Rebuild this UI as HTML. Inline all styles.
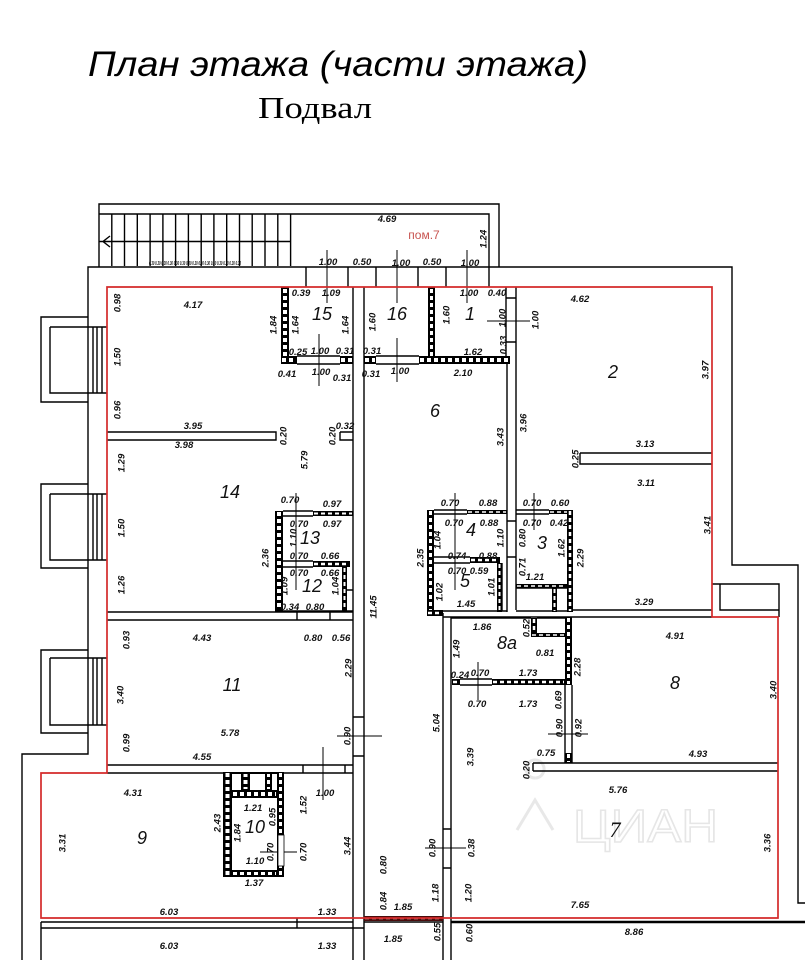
<!DOCTYPE html>
<html><head><meta charset="utf-8">
<style>
html,body{margin:0;padding:0;background:#fff;}
svg{display:block;}
.d{font-family:"Liberation Sans",sans-serif;font-style:italic;font-weight:bold;font-size:9.5px;text-anchor:middle;fill:#111;}
.n{font-family:"Liberation Sans",sans-serif;font-style:italic;font-size:18px;text-anchor:middle;fill:#111;}
.hw line{stroke:#fff;stroke-dasharray:4 3;}
</style></head><body>
<svg width="805" height="960" viewBox="0 0 805 960" xmlns="http://www.w3.org/2000/svg">
<rect width="805" height="960" fill="#fff"/>
<text x="88" y="76" textLength="500" lengthAdjust="spacingAndGlyphs" style="font-family:'Liberation Sans',sans-serif;font-style:italic;font-size:35px;fill:#000">План этажа (части этажа)</text>
<text x="258" y="118" textLength="114" lengthAdjust="spacingAndGlyphs" style="font-family:'Liberation Serif',serif;font-size:31px;fill:#000">Подвал</text>

<!-- watermark -->
<text x="573" y="842" textLength="145" lengthAdjust="spacingAndGlyphs" style="font-family:'Liberation Sans',sans-serif;font-size:46px;fill:none;stroke:#e6e6e6;stroke-width:1.5">ЦИАН</text>
<path d="M517,830 L535,800 L553,830 M535,778 a9,9 0 1,1 0.1,0" fill="none" stroke="#e8e8e8" stroke-width="3"/>

<g fill="none" stroke="#000" stroke-width="1.4">
<path d="M99,267V204H499V267 M99,214H489V267 M99,241.5H291
M111.8,214V266 M124.5,214V266 M137.3,214V266 M150.1,214V266 M162.9,214V266 M175.6,214V266 M188.4,214V266 M201.2,214V266 M213.9,214V266 M226.7,214V266 M239.5,214V266 M252.2,214V266 M265,214V266 M277.8,214V266 M290.6,214V266
M110,236L103,241.5L110,247
M22,960V754H88V267H732V565H798V903H805
M306,267V287 M348,267V287 M376,267V287 M418,267V287 M446,267V287 M489,267V287
M88,317H41V402H88 M50,327H107 M50,327V393H107 M93,327V393 M97,327V393 M102,327V393
M88,484H41V568H88 M50,494H107 M50,494V560H107 M93,494V560 M97,494V560 M102,494V560
M88,650H41V733H88 M50,658H107 M50,658V725H107 M93,658V725 M97,658V725 M102,658V725
M107,432H276V440H107 M340,432H353 M340,432V440H353
M297,356H340 M297,364H340
M353,287V960 M364,287V960
M376,356H419 M376,364H419
M506,287V364 M516,287V610 M506,298H516 M506,342H516 M507,364V612
M580,453H712 M580,453V464H712
M573,610H712 M443,617H712
M434,510H467 M434,514H467 M434,557H470 M434,563H470 M434,611H507 M507,521H516 M507,557H516 M502,563V611
M516,510H549 M516,514H549 M516,611H573 M516,588H567
M283,511H313 M283,516H313 M283,561H313 M283,567H313 M347,590H353 M275,611H353
M107,612H353 M107,620H353 M297,612V620 M330,612V620
M353,717H364 M353,756H364 M107,765H353 M107,773H223 M284,773H353 M303,765V773 M345,765V773
M277,835H284 M277,866H284
M41,922H353 M41,928H364 M41,922V960 M297,918V928
M443,613V960 M451,617V960 M443,829H451 M443,868H451 M364,922H443
M451,618H531 M537,618H565 M460,679H492 M460,685H492 M565,685V763 M572,685V763
M533,763H778 M533,771H778 M533,763V771
M712,584H779V617 M720,584V610H779"/>
</g>
<g fill="none" stroke="#000" stroke-width="1">
<path d="M327,250V303 M397,250V303 M467,250V303 M319,334V386 M397,338V382 M487,321H530 M296,493V590 M455,493V590 M534,493V530 M337,736H382 M323,747V800 M260,852H297 M425,848H466 M548,734H588 M478,662V700"/>
</g>
<path d="M451,922H805" stroke="#000" stroke-width="2.4"/>

<!-- hatched walls -->
<g class="hw">
<rect x="281" y="287" width="8" height="77"/><line x1="285" y1="289" x2="285" y2="362" stroke-width="4"/>
<rect x="281" y="356" width="16" height="8"/><line x1="282" y1="360" x2="296" y2="360" stroke-width="4"/>
<rect x="340" y="356" width="13" height="8"/><line x1="341" y1="360" x2="352" y2="360" stroke-width="4"/>
<rect x="364" y="356" width="12" height="8"/><line x1="365" y1="360" x2="375" y2="360" stroke-width="4"/>
<rect x="428" y="287" width="7" height="71"/><line x1="431.5" y1="289" x2="431.5" y2="356" stroke-width="3"/>
<rect x="419" y="356" width="91" height="8"/><line x1="420" y1="360" x2="509" y2="360" stroke-width="4"/>
<rect x="275" y="511" width="8" height="100"/><line x1="279" y1="512" x2="279" y2="610" stroke-width="4"/>
<rect x="313" y="511" width="40" height="5"/><line x1="314" y1="513.5" x2="352" y2="513.5" stroke-width="2"/>
<rect x="313" y="561" width="37" height="6"/><line x1="314" y1="564" x2="349" y2="564" stroke-width="2.5"/>
<rect x="342" y="567" width="5" height="44"/><line x1="344.5" y1="568" x2="344.5" y2="610" stroke-width="2"/>
<rect x="427" y="510" width="7" height="102"/><line x1="430.5" y1="511" x2="430.5" y2="611" stroke-width="3"/>
<rect x="467" y="510" width="40" height="4"/><line x1="468" y1="512" x2="506" y2="512" stroke-width="1.6"/>
<rect x="470" y="557" width="30" height="6"/><line x1="471" y1="560" x2="499" y2="560" stroke-width="2.5"/>
<rect x="497" y="563" width="5" height="49"/><line x1="499.5" y1="564" x2="499.5" y2="611" stroke-width="2"/>
<rect x="549" y="510" width="24" height="4"/><line x1="550" y1="512" x2="572" y2="512" stroke-width="1.6"/>
<rect x="567" y="510" width="6" height="102"/><line x1="570" y1="511" x2="570" y2="611" stroke-width="2.5"/>
<rect x="516" y="584" width="51" height="4"/><line x1="517" y1="586" x2="566" y2="586" stroke-width="1.6"/>
<rect x="552" y="588" width="5" height="24"/><line x1="554.5" y1="589" x2="554.5" y2="611" stroke-width="2"/>
<rect x="427" y="610" width="16" height="6"/><line x1="428" y1="613" x2="442" y2="613" stroke-width="2.5"/>
<rect x="531" y="618" width="6" height="19"/><line x1="534" y1="619" x2="534" y2="636" stroke-width="2.5"/>
<rect x="531" y="633" width="34" height="4"/><line x1="532" y1="635" x2="564" y2="635" stroke-width="1.6"/>
<rect x="565" y="617" width="7" height="68"/><line x1="568.5" y1="618" x2="568.5" y2="684" stroke-width="3"/>
<rect x="452" y="679" width="8" height="6"/><line x1="453" y1="682" x2="459" y2="682" stroke-width="2.5"/>
<rect x="492" y="679" width="73" height="6"/><line x1="493" y1="682" x2="564" y2="682" stroke-width="2.5"/>
<rect x="565" y="753" width="7" height="10"/><line x1="568.5" y1="754" x2="568.5" y2="762" stroke-width="3"/>
<rect x="223" y="772" width="9" height="105"/><line x1="227.5" y1="773" x2="227.5" y2="876" stroke-width="4"/>
<rect x="277" y="772" width="7" height="105"/><line x1="280.5" y1="773" x2="280.5" y2="876" stroke-width="3"/>
<rect x="232" y="790" width="45" height="8"/><line x1="233" y1="794" x2="276" y2="794" stroke-width="4"/>
<rect x="232" y="870" width="45" height="7"/><line x1="233" y1="873.5" x2="276" y2="873.5" stroke-width="3"/>
<rect x="241" y="772" width="9" height="18"/><line x1="245.5" y1="773" x2="245.5" y2="789" stroke-width="4"/>
<rect x="265" y="772" width="7" height="18"/><line x1="268.5" y1="773" x2="268.5" y2="789" stroke-width="3"/>
<rect x="232" y="772" width="45" height="2"/>
</g>
<rect x="278" y="835" width="6" height="31" fill="#fff" stroke="#000" stroke-width="0.8"/>
<rect x="364" y="916" width="79" height="5" fill="#4a0d0d"/><line x1="365" y1="918.5" x2="442" y2="918.5" stroke="#e9b0b0" stroke-width="1.6" stroke-dasharray="4 3"/>

<!-- red outline -->
<path d="M107,287H712V617H778V918H41V773H107Z" fill="none" stroke="#d42a2a" stroke-width="1.7"/>

<text x="424" y="239" style="font-family:'Liberation Sans',sans-serif;font-size:12px;fill:#c85450;text-anchor:middle">пом.7</text>
<text x="195" y="265" textLength="92" lengthAdjust="spacingAndGlyphs" class="d" style="font-size:5px">0.30 0.30 0.30 0.30 0.30 0.30 0.30 0.30 0.30 0.30 0.30 0.30 0.30 0.30 0.30</text>

<!-- horizontal dims -->
<g class="d">
<text x="387" y="222">4.69</text><text x="328" y="265">1.00</text><text x="362" y="265">0.50</text><text x="401" y="266">1.00</text><text x="432" y="265">0.50</text><text x="470" y="266">1.00</text>
<text x="301" y="296">0.39</text><text x="331" y="296">1.09</text><text x="469" y="296">1.00</text><text x="497" y="296">0.40</text>
<text x="193" y="308">4.17</text><text x="580" y="302">4.62</text>
<text x="298" y="355">0.25</text><text x="320" y="354">1.00</text><text x="345" y="354">0.31</text><text x="372" y="354">0.31</text><text x="473" y="355">1.62</text>
<text x="287" y="377">0.41</text><text x="321" y="375">1.00</text><text x="342" y="381">0.31</text><text x="371" y="377">0.31</text><text x="400" y="374">1.00</text><text x="463" y="376">2.10</text>
<text x="193" y="429">3.95</text><text x="345" y="429">0.32</text><text x="184" y="448">3.98</text>
<text x="645" y="447">3.13</text><text x="646" y="486">3.11</text>
<text x="290" y="503">0.70</text><text x="332" y="507">0.97</text><text x="450" y="506">0.70</text><text x="488" y="506">0.88</text><text x="532" y="506">0.70</text><text x="560" y="506">0.60</text>
<text x="299" y="527">0.70</text><text x="332" y="527">0.97</text><text x="454" y="526">0.70</text><text x="489" y="526">0.88</text><text x="532" y="526">0.70</text><text x="559" y="526">0.42</text>
<text x="299" y="559">0.70</text><text x="330" y="559">0.66</text><text x="457" y="559">0.74</text><text x="488" y="559">0.88</text>
<text x="299" y="576">0.70</text><text x="330" y="576">0.66</text><text x="457" y="574">0.70</text><text x="479" y="574">0.59</text>
<text x="535" y="580">1.21</text><text x="644" y="605">3.29</text><text x="466" y="607">1.45</text><text x="290" y="610">0.34</text><text x="315" y="610">0.80</text>
<text x="482" y="630">1.86</text><text x="675" y="639">4.91</text><text x="202" y="641">4.43</text><text x="313" y="641">0.80</text><text x="341" y="641">0.56</text>
<text x="545" y="656">0.81</text><text x="460" y="678">0.24</text><text x="480" y="676">0.70</text><text x="528" y="676">1.73</text>
<text x="477" y="707">0.70</text><text x="528" y="707">1.73</text>
<text x="230" y="736">5.78</text><text x="546" y="756">0.75</text><text x="698" y="757">4.93</text><text x="202" y="760">4.55</text>
<text x="618" y="793">5.76</text><text x="133" y="796">4.31</text><text x="325" y="796">1.00</text><text x="253" y="811">1.21</text><text x="255" y="864">1.10</text><text x="254" y="886">1.37</text>
<text x="580" y="908">7.65</text><text x="403" y="910">1.85</text><text x="169" y="915">6.03</text><text x="327" y="915">1.33</text>
<text x="634" y="935">8.86</text><text x="393" y="942">1.85</text><text x="169" y="949">6.03</text><text x="327" y="949">1.33</text>
</g>

<!-- vertical dims -->
<g class="d">
<text transform="translate(486.5,239) rotate(-90)">1.24</text>
<text transform="translate(120.5,303) rotate(-90)">0.98</text>
<text transform="translate(120.5,357) rotate(-90)">1.50</text>
<text transform="translate(120.5,410) rotate(-90)">0.96</text>
<text transform="translate(276.5,325) rotate(-90)">1.84</text>
<text transform="translate(298.5,325) rotate(-90)">1.64</text>
<text transform="translate(348.5,325) rotate(-90)">1.64</text>
<text transform="translate(375.5,322) rotate(-90)">1.60</text>
<text transform="translate(449.5,315) rotate(-90)">1.60</text>
<text transform="translate(505.5,318) rotate(-90)">1.00</text>
<text transform="translate(506.5,345) rotate(-90)">0.33</text>
<text transform="translate(538.5,320) rotate(-90)">1.00</text>
<text transform="translate(708.5,370) rotate(-90)">3.97</text>
<text transform="translate(526.5,423) rotate(-90)">3.96</text>
<text transform="translate(286.5,436) rotate(-90)">0.20</text>
<text transform="translate(335.5,436) rotate(-90)">0.20</text>
<text transform="translate(503.5,437) rotate(-90)">3.43</text>
<text transform="translate(578.5,459) rotate(-90)">0.25</text>
<text transform="translate(307.5,460) rotate(-90)">5.79</text>
<text transform="translate(124.5,463) rotate(-90)">1.29</text>
<text transform="translate(710.5,525) rotate(-90)">3.41</text>
<text transform="translate(124.5,528) rotate(-90)">1.50</text>
<text transform="translate(296.5,538) rotate(-90)">1.10</text>
<text transform="translate(440.5,540) rotate(-90)">1.04</text>
<text transform="translate(503.5,538) rotate(-90)">1.10</text>
<text transform="translate(525.5,538) rotate(-90)">0.80</text>
<text transform="translate(564.5,548) rotate(-90)">1.62</text>
<text transform="translate(268.5,558) rotate(-90)">2.36</text>
<text transform="translate(423.5,558) rotate(-90)">2.35</text>
<text transform="translate(583.5,558) rotate(-90)">2.29</text>
<text transform="translate(525.5,567) rotate(-90)">0.71</text>
<text transform="translate(287.5,586) rotate(-90)">1.09</text>
<text transform="translate(338.5,586) rotate(-90)">1.04</text>
<text transform="translate(494.5,587) rotate(-90)">1.01</text>
<text transform="translate(442.5,592) rotate(-90)">1.02</text>
<text transform="translate(124.5,585) rotate(-90)">1.26</text>
<text transform="translate(376.5,607) rotate(-90)">11.45</text>
<text transform="translate(529.5,628) rotate(-90)">0.52</text>
<text transform="translate(129.5,640) rotate(-90)">0.93</text>
<text transform="translate(459.5,649) rotate(-90)">1.49</text>
<text transform="translate(580.5,667) rotate(-90)">2.28</text>
<text transform="translate(351.5,668) rotate(-90)">2.29</text>
<text transform="translate(776.5,690) rotate(-90)">3.40</text>
<text transform="translate(123.5,695) rotate(-90)">3.40</text>
<text transform="translate(561.5,700) rotate(-90)">0.69</text>
<text transform="translate(439.5,723) rotate(-90)">5.04</text>
<text transform="translate(562.5,728) rotate(-90)">0.90</text>
<text transform="translate(581.5,728) rotate(-90)">0.92</text>
<text transform="translate(350.5,736) rotate(-90)">0.90</text>
<text transform="translate(129.5,743) rotate(-90)">0.99</text>
<text transform="translate(473.5,757) rotate(-90)">3.39</text>
<text transform="translate(529.5,770) rotate(-90)">0.20</text>
<text transform="translate(306.5,805) rotate(-90)">1.52</text>
<text transform="translate(275.5,817) rotate(-90)">0.95</text>
<text transform="translate(220.5,823) rotate(-90)">2.43</text>
<text transform="translate(240.5,833) rotate(-90)">1.84</text>
<text transform="translate(65.5,843) rotate(-90)">3.31</text>
<text transform="translate(770.5,843) rotate(-90)">3.36</text>
<text transform="translate(350.5,846) rotate(-90)">3.44</text>
<text transform="translate(435.5,848) rotate(-90)">0.90</text>
<text transform="translate(474.5,848) rotate(-90)">0.38</text>
<text transform="translate(273.5,852) rotate(-90)">0.70</text>
<text transform="translate(306.5,852) rotate(-90)">0.70</text>
<text transform="translate(386.5,865) rotate(-90)">0.80</text>
<text transform="translate(438.5,893) rotate(-90)">1.18</text>
<text transform="translate(471.5,893) rotate(-90)">1.20</text>
<text transform="translate(386.5,901) rotate(-90)">0.84</text>
<text transform="translate(440.5,932) rotate(-90)">0.55</text>
<text transform="translate(472.5,933) rotate(-90)">0.60</text>
</g>

<!-- room numbers -->
<g class="n">
<text x="322" y="320">15</text><text x="397" y="320">16</text><text x="470" y="320">1</text><text x="613" y="378">2</text>
<text x="435" y="417">6</text><text x="230" y="498">14</text><text x="471" y="536">4</text><text x="542" y="549">3</text>
<text x="310" y="544">13</text><text x="465" y="587">5</text><text x="312" y="592">12</text><text x="507" y="649">8a</text>
<text x="675" y="689">8</text><text x="232" y="691">11</text><text x="142" y="844">9</text><text x="255" y="833">10</text>
<text x="615" y="837" style="font-family:'Liberation Serif',serif;font-size:22px">7</text>
</g>
</svg>
</body></html>
